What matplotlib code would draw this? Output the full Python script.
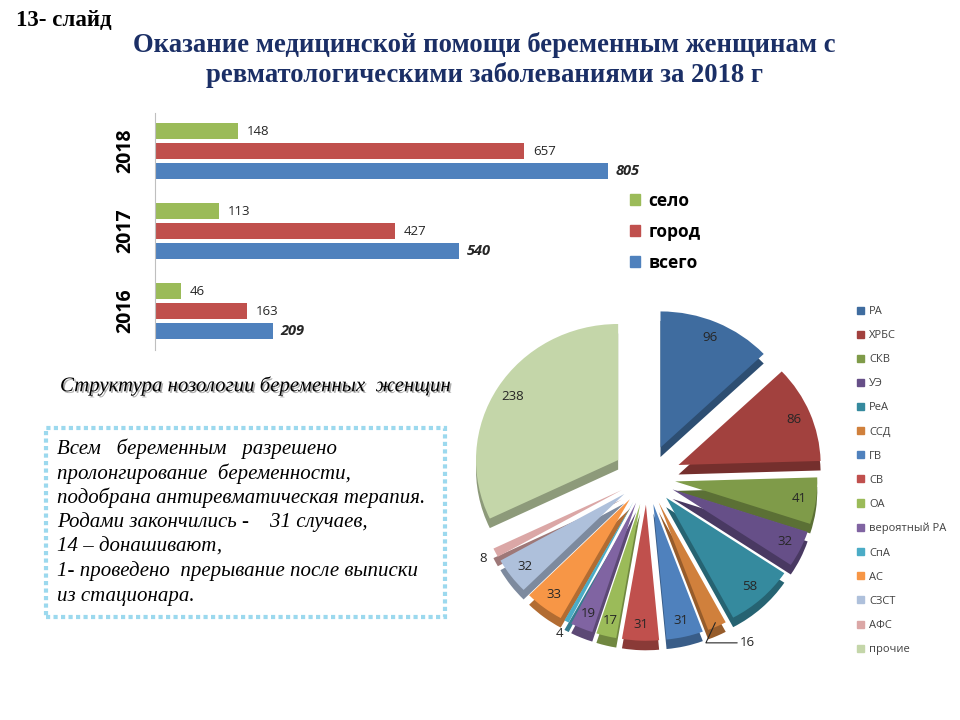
import matplotlib.pyplot as plt
import matplotlib.patheffects as pe
from matplotlib.patches import Patch, Rectangle
import numpy as np

plt.rcParams['font.family'] = ['Open Sans', 'DejaVu Sans']

# bar chart data
years = ['2016', '2017', '2018']
selo = [46, 113, 148]
gorod = [163, 427, 657]
vsego = [209, 540, 805]
bar_names = ['село', 'город', 'всего']

# pie chart data
nosology = ['РА', 'ХРБС', 'СКВ', 'УЭ', 'РеА', 'ССД', 'ГВ', 'СВ', 'ОА',
            'вероятный РА', 'СпА', 'АС', 'СЗСТ', 'АФС', 'прочие']
cases = [96, 86, 41, 32, 58, 16, 31, 31, 17, 19, 4, 33, 32, 8, 238]

title = 'Оказание медицинской помощи беременным женщинам с\nревматологическими заболеваниями за 2018 г'
note_lines = ['Всем   беременным   разрешено',
              'пролонгирование  беременности,',
              'подобрана антиревматическая терапия.',
              'Родами закончились -    31 случаев,',
              '14 – донашивают,',
              '1- проведено  прерывание после выписки',
              'из стационара.']

GREEN, RED, BLUE = '#9BBB59', '#C0504D', '#4F81BD'
pie_colors = ['#3F6C9F', '#A2413E', '#7F9B49', '#664F88', '#358A9E', '#D0803C',
              '#4F81BD', '#C0504D', '#9BBB59', '#8064A2', '#4BACC6', '#F79646',
              '#AEC0DB', '#DBA7A6', '#C4D6A9']

W, H = 960, 720


def fx(x):
    return x / W


def fy(y):
    return 1 - y / H


fig = plt.figure(figsize=(9.6, 7.2), dpi=100)
fig.patch.set_facecolor('white')

fig.text(fx(16), fy(20), '13- слайд', fontfamily='Liberation Serif', fontweight='bold',
         fontsize=16.5, va='center', ha='left')
fig.text(fx(484), fy(60), title, fontfamily='Liberation Serif', fontweight='bold',
         fontsize=19.2, color='#1B2F66', ha='center', va='center', linespacing=1.22)

# ---- bars
ax = fig.add_axes([fx(155), fy(350), 506 / W, 237 / H])
pos = np.arange(len(years))
ax.barh(pos + 0.25, selo, height=0.2, color=GREEN)
ax.barh(pos, gorod, height=0.2, color=RED)
ax.barh(pos - 0.25, vsego, height=0.2, color=BLUE)
for p, s, g, v in zip(pos, selo, gorod, vsego):
    ax.text(s + 16, p + 0.25, str(s), va='center', fontsize=9.5, color='#262626')
    ax.text(g + 16, p, str(g), va='center', fontsize=9.5, color='#262626')
    ax.text(v + 14, p - 0.25, str(v), va='center', fontsize=10.5, fontweight='bold',
            fontstyle='italic', color='#262626')
ax.set_xlim(0, 900)
ax.set_ylim(-0.4875, 2.475)
ax.set_xticks([])
ax.set_yticks(pos, years, rotation=90, va='center', fontweight='bold', fontsize=14)
ax.tick_params(axis='y', length=0, pad=14)
for side in ['top', 'right', 'bottom']:
    ax.spines[side].set_visible(False)
ax.spines['left'].set_color('#BFBFBF')
ax.patch.set_alpha(0)

bar_handles = [Patch(color=GREEN), Patch(color=RED), Patch(color=BLUE)]
fig.legend(bar_handles, bar_names, loc='upper left', bbox_to_anchor=(fx(614), fy(176)),
           frameon=False, prop={'weight': 'bold', 'size': 12.5}, handlelength=0.6,
           handleheight=0.6, handletextpad=0.5, labelspacing=0.75)

# ---- pie (flattened a little, with a darker copy underneath for depth)
ax2 = fig.add_axes([fx(448), fy(668), 398 / W, 381 / H])
explode = [0.24, 0.24] + [0.2] * 12 + [0.24]
dark = [tuple(c * 0.72 for c in plt.matplotlib.colors.to_rgb(col)) for col in pie_colors]
ax2.pie(cases, explode=explode, colors=dark, startangle=90, counterclock=False,
        center=(0, -0.07), wedgeprops=dict(linewidth=0))
wedges, _ = ax2.pie(cases, explode=explode, colors=pie_colors, startangle=90,
                    counterclock=False, wedgeprops=dict(linewidth=0))
ax2.set_aspect('auto')
ax2.set_xlim(-1.4, 1.4)
ax2.set_ylim(-1.4, 1.4)

outside = {'АФС', 'СпА', 'ССД'}
for w, name, val, ex in zip(wedges, nosology, cases, explode):
    ang = np.deg2rad((w.theta1 + w.theta2) / 2)
    if name in outside:
        r = 1.3
        tx, ty = r * np.cos(ang), r * np.sin(ang)
        if name == 'ССД':
            ax2.annotate(str(val), xy=(1.17 * np.cos(ang), 1.17 * np.sin(ang)),
                         xytext=(tx + 0.12, ty - 0.03), fontsize=9.5, color='#262626',
                         ha='left', va='center',
                         arrowprops=dict(arrowstyle='-', color='#262626', lw=0.8,
                                         connectionstyle='angle,angleA=0,angleB=65',
                                         shrinkA=0, shrinkB=0))
        else:
            ax2.text(tx, ty, str(val), fontsize=9.5, color='#262626', ha='center', va='center')
    else:
        r = ex + 0.88
        ax2.text(r * np.cos(ang), r * np.sin(ang), str(val), fontsize=9.5,
                 color='#262626', ha='center', va='center')

pie_handles = [Patch(color=c) for c in pie_colors]
fig.legend(pie_handles, nosology, loc='upper left', bbox_to_anchor=(fx(847), fy(296)),
           frameon=False, fontsize=8, labelcolor='#404040', handlelength=0.6,
           handleheight=0.6, handletextpad=0.5, labelspacing=1.18)

# ---- text blocks
fig.text(fx(60), fy(386), 'Структура нозологии беременных  женщин', fontfamily='Liberation Serif',
         fontstyle='italic', fontsize=15, va='center', ha='left',
         path_effects=[pe.withSimplePatchShadow(offset=(1.2, -1.2), shadow_rgbFace='#999999',
                                                alpha=0.8)])

fig.patches.append(Rectangle((fx(46), fy(617)), 399 / W, 189 / H, transform=fig.transFigure,
                             fill=False, edgecolor='#9CD9EE', linewidth=3,
                             linestyle=(0, (1, 0.8)), capstyle='butt'))
for i, line in enumerate(note_lines):
    fig.text(fx(57), fy(449 + i * 24.5), line, fontfamily='Liberation Serif',
             fontstyle='italic', fontsize=15, va='center', ha='left')

fig.savefig('out.png', dpi=100)
